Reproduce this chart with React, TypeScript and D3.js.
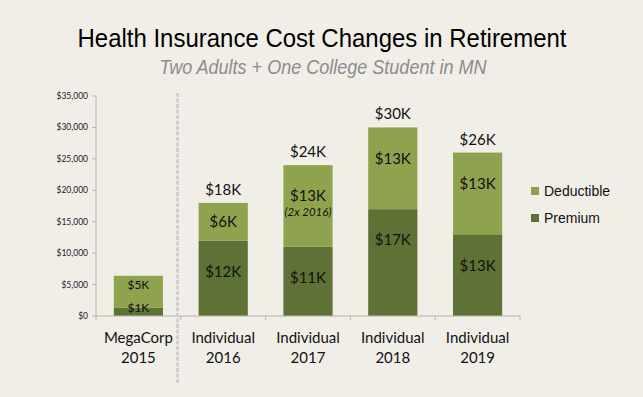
import { useEffect } from "react";
import * as d3 from "d3";

const CATEGORIES = ["MegaCorp|2015", "Individual|2016", "Individual|2017", "Individual|2018", "Individual|2019"];
const PREMIUM = [1.3, 12, 11, 17, 13];
const DEDUCTIBLE = [5.1, 6, 13, 13, 13];
const PREMIUM_LABELS = ["$1K", "$12K", "$11K", "$17K", "$13K"];
const DEDUCTIBLE_LABELS = ["$5K", "$6K", "$13K", "$13K", "$13K"];
const TOTAL_LABELS = ["", "$18K", "$24K", "$30K", "$26K"];
const NOTES = ["", "", "(2x 2016)", "", ""];
const Y_TICKS = [0, 5, 10, 15, 20, 25, 30, 35];

const BG = "#F1EEE8";
const C_DED = "#8FA34F";
const C_PREM = "#5F7236";
const AXIS = "#B4B4B4";
const LABEL_FONT = "Lato, 'Open Sans', sans-serif";
const TITLE_FONT = "'Liberation Sans', Arial, sans-serif";

export default function App() {
  useEffect(() => {
    document.body.style.margin = "0";
    document.body.style.background = BG;
  }, []);

  const W = 643;
  const H = 397;
  const x = d3.scaleBand<string>().domain(CATEGORIES).range([96, 520]).paddingInner(0.42).paddingOuter(0.21);
  const y = d3.scaleLinear().domain([0, 35]).range([316, 96]);
  const step = x.step();
  const bw = x.bandwidth();
  const boundaries = d3.range(CATEGORIES.length + 1).map(i => 96 + i * step);
  const fmt = (v: number) => "$" + d3.format(",")(v * 1000);

  return (
    <svg width={W} height={H} style={{ display: "block", background: BG }}>
      <rect width={W} height={H} fill={BG} />

      <text x={322} y={47} textAnchor="middle" fontFamily={TITLE_FONT} fontSize={26}
        textLength={489} lengthAdjust="spacingAndGlyphs" fill="#000">
        Health Insurance Cost Changes in Retirement
      </text>
      <text x={323} y={74} textAnchor="middle" fontFamily={TITLE_FONT} fontSize={21}
        fontStyle="italic" textLength={327} lengthAdjust="spacingAndGlyphs" fill="#8C8C8C">
        Two Adults + One College Student in MN
      </text>

      {/* y axis */}
      <line x1={96} x2={96} y1={96} y2={316} stroke={AXIS} />
      {Y_TICKS.map(t => (
        <g key={t}>
          <line x1={92} x2={96} y1={y(t)} y2={y(t)} stroke={AXIS} />
          <text x={88} y={y(t)} dy="0.35em" textAnchor="end" fontFamily={LABEL_FONT}
            fontSize={8.5} fill="#222">{fmt(t)}</text>
        </g>
      ))}

      {/* bars */}
      {CATEGORIES.map((c, i) => {
        const x0 = x(c)!;
        const cx = x0 + bw / 2;
        const pTop = y(PREMIUM[i]);
        const dTop = y(PREMIUM[i] + DEDUCTIBLE[i]);
        const small = i === 0;
        const fs = small ? 12 : 15;
        const dY = small ? dTop + 9 : dTop + Math.min((pTop - dTop) / 2, 31);
        const pY = small ? pTop : pTop + Math.min((316 - pTop) / 2, 31);
        return (
          <g key={c}>
            <rect x={x0} y={pTop} width={bw} height={316 - pTop} fill={C_PREM} />
            <rect x={x0} y={dTop} width={bw} height={pTop - dTop} fill={C_DED} />
            <text x={cx} y={dY} dy="0.35em" textAnchor="middle" fontFamily={LABEL_FONT}
              fontSize={fs} fill="#111">{DEDUCTIBLE_LABELS[i]}</text>
            {NOTES[i] && (
              <text x={cx} y={dY + 16} dy="0.35em" textAnchor="middle" fontFamily={LABEL_FONT}
                fontSize={11.5} fontStyle="italic" fill="#111">{NOTES[i]}</text>
            )}
            <text x={cx} y={pY} dy="0.35em" textAnchor="middle" fontFamily={LABEL_FONT}
              fontSize={fs} fill="#111">{PREMIUM_LABELS[i]}</text>
            {TOTAL_LABELS[i] && (
              <text x={cx} y={dTop - 8} textAnchor="middle" fontFamily={LABEL_FONT}
                fontSize={15} fill="#111">{TOTAL_LABELS[i]}</text>
            )}
          </g>
        );
      })}

      {/* x axis */}
      <line x1={96} x2={520} y1={316} y2={316} stroke={AXIS} />
      {boundaries.map((b, i) => (
        <line key={i} x1={b} x2={b} y1={316} y2={320} stroke={AXIS} />
      ))}
      {CATEGORIES.map(c => {
        const [a, b] = c.split("|");
        const cx = x(c)! + bw / 2;
        return (
          <text key={c} x={cx} textAnchor="middle" fontFamily={LABEL_FONT} fontSize={15} fill="#111">
            <tspan x={cx} y={343}>{a}</tspan>
            <tspan x={cx} y={363}>{b}</tspan>
          </text>
        );
      })}

      {/* separator */}
      <line x1={177.5} x2={177.5} y1={93} y2={383} stroke="#CBCBCB" strokeWidth={2.5} strokeDasharray="4,1.5" />

      {/* legend */}
      {[["Deductible", C_DED], ["Premium", C_PREM]].map(([name, col], i) => (
        <g key={name} transform={`translate(531,${191 + i * 27})`}>
          <rect x={0} y={-4} width={8} height={8} fill={col} />
          <text x={13} y={0} dy="0.35em" fontFamily={TITLE_FONT} fontSize={14} fill="#111">{name}</text>
        </g>
      ))}
    </svg>
  );
}
